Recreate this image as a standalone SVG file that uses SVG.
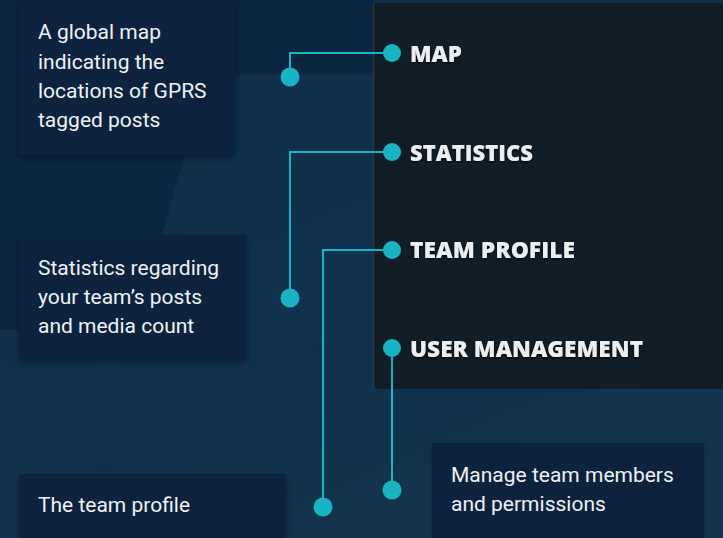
<svg xmlns="http://www.w3.org/2000/svg" width="723" height="538" viewBox="0 0 723 538">
<defs>
<filter id="sh" x="-10%" y="-10%" width="125%" height="130%">
<feDropShadow dx="0" dy="3" stdDeviation="3" flood-color="#000" flood-opacity="0.35"/>
</filter>
<filter id="glow" x="-5%" y="-30%" width="110%" height="160%">
<feDropShadow dx="0" dy="1" stdDeviation="1.2" flood-color="#000" flood-opacity="0.9"/>
</filter>
<linearGradient id="bg" x1="0" y1="0" x2="0.6" y2="1">
<stop offset="0" stop-color="#0e2d4a"/>
<stop offset="1" stop-color="#12344f"/>
</linearGradient>
</defs>
<style>
.box{fill:#07233d;filter:url(#sh)}
.desc{font-family:Roboto,"Liberation Sans",sans-serif;font-size:21px;fill:#eef2f5}
.menu{font-family:"Open Sans","DejaVu Sans",sans-serif;font-weight:800;font-size:22px;fill:#eceff1;filter:url(#glow)}
.ln{fill:none;stroke:#19b3c3;stroke-width:2}
.dot{fill:#19b3c3}
</style>
<rect x="0" y="0" width="723" height="538" fill="url(#bg)"/>
<polygon points="0,0 373,0 373,75 208,75 134,330 0,330" fill="#0a2641"/>
<polygon points="122,362 367,340 325,457 85,473" fill="#10304d" opacity="0.5"/>
<g id="panel">
<rect x="373" y="3" width="350" height="386" fill="#111d27"/>
<line x1="373.5" y1="3" x2="373.5" y2="389" stroke="#2a3846" stroke-width="1.5"/>
</g>
<g id="menu-map"><circle class="dot" cx="392" cy="53" r="9"/><text class="menu" x="410" y="62" textLength="52" lengthAdjust="spacingAndGlyphs">MAP</text></g>
<g id="menu-statistics"><circle class="dot" cx="392" cy="152" r="9"/><text class="menu" x="410" y="161" textLength="123" lengthAdjust="spacingAndGlyphs">STATISTICS</text></g>
<g id="menu-team-profile"><circle class="dot" cx="392" cy="250" r="9"/><text class="menu" x="410" y="258" textLength="165" lengthAdjust="spacingAndGlyphs">TEAM PROFILE</text></g>
<g id="menu-user-management"><circle class="dot" cx="392" cy="348" r="9"/><text class="menu" x="410" y="357" textLength="233" lengthAdjust="spacingAndGlyphs">USER MANAGEMENT</text></g>
<g id="box-map">
<rect class="box" x="19" y="0" width="216" height="155"/>
<text class="desc" x="38" y="39">A global map</text>
<text class="desc" x="38" y="69">indicating the</text>
<text class="desc" x="38" y="98">locations of GPRS</text>
<text class="desc" x="38" y="127">tagged posts</text>
</g>
<g id="box-statistics">
<rect class="box" x="19" y="235" width="228" height="124"/>
<text class="desc" x="38" y="275">Statistics regarding</text>
<text class="desc" x="38" y="304">your team’s posts</text>
<text class="desc" x="38" y="333">and media count</text>
</g>
<g id="box-team-profile">
<rect class="box" x="19" y="474" width="267" height="70"/>
<text class="desc" x="38" y="512">The team profile</text>
</g>
<g id="box-user-management">
<rect class="box" x="432" y="443" width="272" height="100"/>
<text class="desc" x="451" y="482">Manage team members</text>
<text class="desc" x="451" y="511">and permissions</text>
</g>
<g id="connectors">
<polyline class="ln" points="392,53 290,53 290,77"/>
<circle class="dot" cx="290" cy="77" r="9.5"/>
<polyline class="ln" points="392,152 290,152 290,298"/>
<circle class="dot" cx="290" cy="298" r="9.5"/>
<polyline class="ln" points="392,250 323,250 323,507"/>
<circle class="dot" cx="323" cy="507" r="9.5"/>
<polyline class="ln" points="392,348 392,490"/>
<circle class="dot" cx="392" cy="490" r="9.5"/>
</g>
</svg>
